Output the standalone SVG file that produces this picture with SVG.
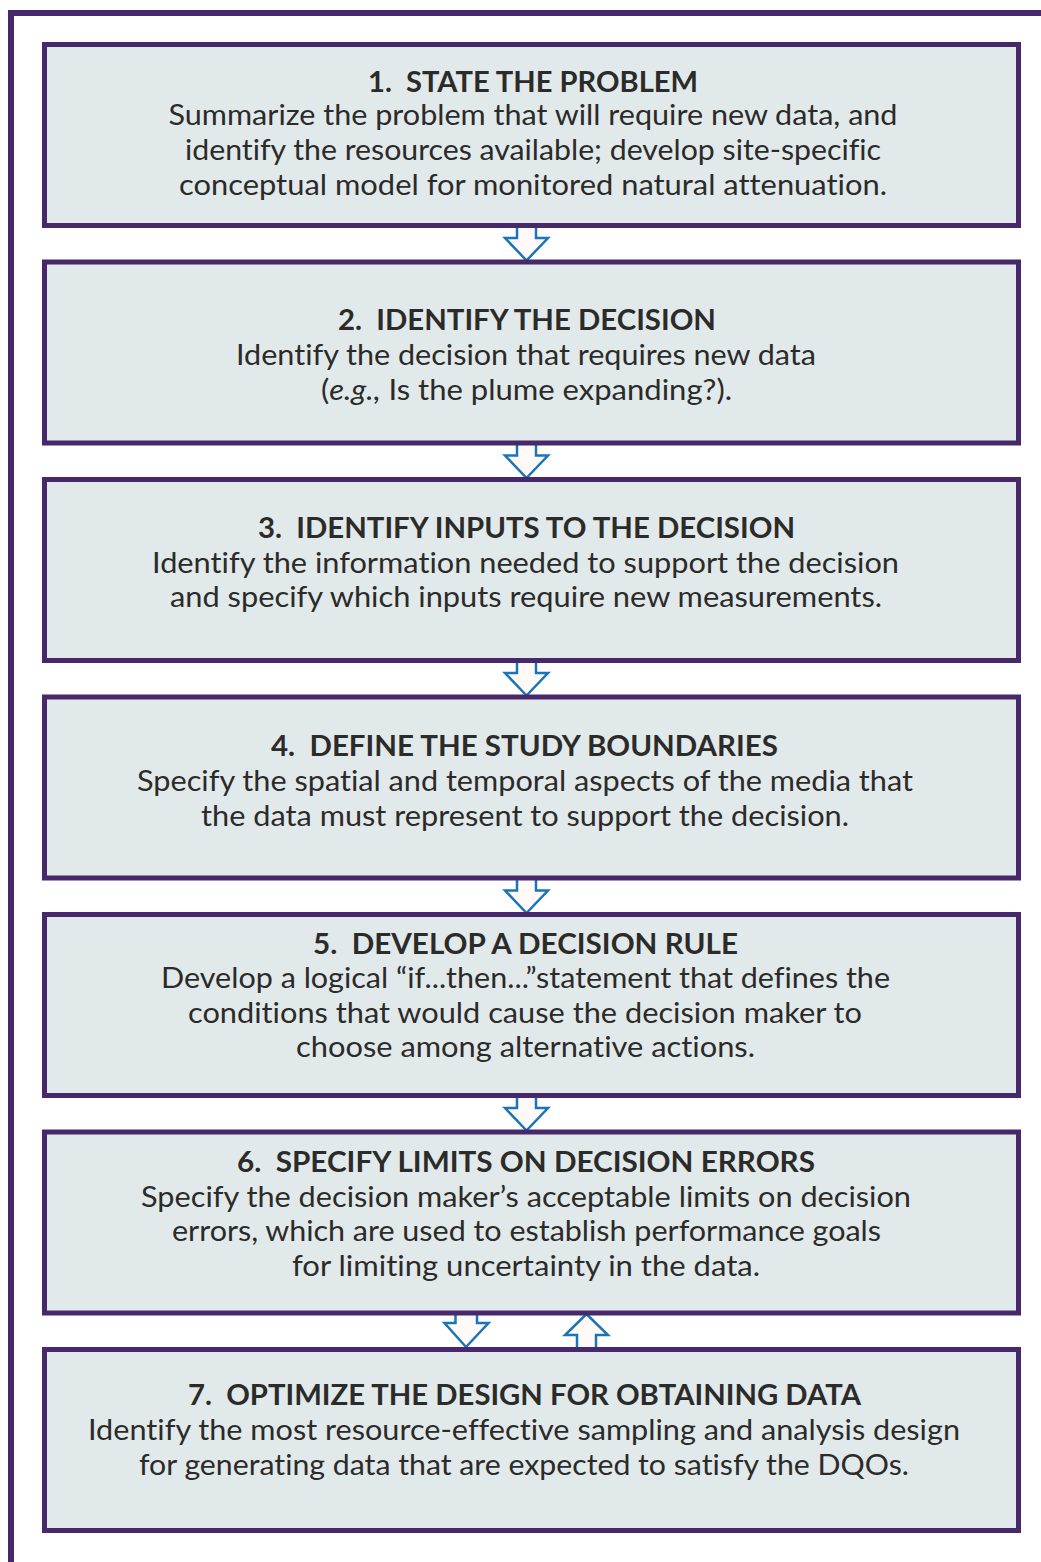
<svg xmlns="http://www.w3.org/2000/svg" width="1041" height="1562" viewBox="0 0 1041 1562">
<defs>
<style>
.frame{fill:none;stroke:#47286b;stroke-width:6}
.box{fill:#e2e9eb;stroke:#47286b;stroke-width:5}
.arr{fill:#fffaf8;stroke:#1a74b8;stroke-width:2.5;stroke-linejoin:miter}
text{font-family:Lato,"Open Sans","Liberation Sans",sans-serif;fill:#2b2b29;text-anchor:middle;font-size:28px;font-variant-ligatures:none;font-feature-settings:"liga" 0,"dlig" 0}
.t{font-weight:bold}
</style>
</defs>
<rect width="1041" height="1562" fill="#ffffff"/>
<rect class="frame" x="11" y="13" width="1100" height="1600"/>
<g id="connectors">
<polygon class="arr" points="517,226 536,226 536,238 548,238 526.5,260.5 505,238 517,238"/>
<polygon class="arr" points="517,443.5 536,443.5 536,455.5 548,455.5 526.5,478 505,455.5 517,455.5"/>
<polygon class="arr" points="517,661 536,661 536,673 548,673 526.5,695.5 505,673 517,673"/>
<polygon class="arr" points="517,878.5 536,878.5 536,890.5 548,890.5 526.5,913 505,890.5 517,890.5"/>
<polygon class="arr" points="517,1096 536,1096 536,1108 548,1108 526.5,1130.5 505,1108 517,1108"/>
<polygon class="arr" points="455.5,1313 477,1313 477,1323 488.5,1323 466,1347 444.5,1323 455.5,1323"/>
<polygon class="arr" points="577,1349 596,1349 596,1335 608,1335 586.5,1314 565,1335 577,1335"/>
</g>
<g id="node1">
<rect class="box" x="44.5" y="44.5" width="974" height="181"/>
<text class="t" x="533" y="92" textLength="330" lengthAdjust="spacingAndGlyphs" xml:space="preserve">1.  STATE THE PROBLEM</text>
<text x="533" y="125" textLength="729" lengthAdjust="spacingAndGlyphs">Summarize the problem that will require new data, and</text>
<text x="533" y="160" textLength="696" lengthAdjust="spacingAndGlyphs">identify the resources available; develop site-specific</text>
<text x="533" y="195" textLength="708" lengthAdjust="spacingAndGlyphs">conceptual model for monitored natural attenuation.</text>
</g>
<g id="node2">
<rect class="box" x="44.5" y="262" width="974" height="181"/>
<text class="t" x="527" y="330" textLength="378" lengthAdjust="spacingAndGlyphs" xml:space="preserve">2.  IDENTIFY THE DECISION</text>
<text x="526" y="365" textLength="580" lengthAdjust="spacingAndGlyphs">Identify the decision that requires new data</text>
<text x="526.5" y="400" textLength="411" lengthAdjust="spacingAndGlyphs">(<tspan font-style="italic">e.g.,</tspan> Is the plume expanding?).</text>
</g>
<g id="node3">
<rect class="box" x="44.5" y="479.5" width="974" height="181"/>
<text class="t" x="526.5" y="538" textLength="537" lengthAdjust="spacingAndGlyphs" xml:space="preserve">3.  IDENTIFY INPUTS TO THE DECISION</text>
<text x="525.5" y="573" textLength="747" lengthAdjust="spacingAndGlyphs">Identify the information needed to support the decision</text>
<text x="526" y="607" textLength="712" lengthAdjust="spacingAndGlyphs">and specify which inputs require new measurements.</text>
</g>
<g id="node4">
<rect class="box" x="44.5" y="697" width="974" height="181"/>
<text class="t" x="524.5" y="756" textLength="507" lengthAdjust="spacingAndGlyphs" xml:space="preserve">4.  DEFINE THE STUDY BOUNDARIES</text>
<text x="525" y="791" textLength="776" lengthAdjust="spacingAndGlyphs">Specify the spatial and temporal aspects of the media that</text>
<text x="525" y="826" textLength="648" lengthAdjust="spacingAndGlyphs">the data must represent to support the decision.</text>
</g>
<g id="node5">
<rect class="box" x="44.5" y="914.5" width="974" height="181"/>
<text class="t" x="525.5" y="954" textLength="425" lengthAdjust="spacingAndGlyphs" xml:space="preserve">5.  DEVELOP A DECISION RULE</text>
<text x="525.5" y="988" textLength="729" lengthAdjust="spacingAndGlyphs">Develop a logical “if...then...”statement that defines the</text>
<text x="525" y="1023" textLength="674" lengthAdjust="spacingAndGlyphs">conditions that would cause the decision maker to</text>
<text x="525.5" y="1057" textLength="459" lengthAdjust="spacingAndGlyphs">choose among alternative actions.</text>
</g>
<g id="node6">
<rect class="box" x="44.5" y="1132" width="974" height="181"/>
<text class="t" x="526" y="1172" textLength="578" lengthAdjust="spacingAndGlyphs" xml:space="preserve">6.  SPECIFY LIMITS ON DECISION ERRORS</text>
<text x="526" y="1207" textLength="770" lengthAdjust="spacingAndGlyphs">Specify the decision maker’s acceptable limits on decision</text>
<text x="526.5" y="1241" textLength="709" lengthAdjust="spacingAndGlyphs">errors, which are used to establish performance goals</text>
<text x="526" y="1276" textLength="468" lengthAdjust="spacingAndGlyphs">for limiting uncertainty in the data.</text>
</g>
<g id="node7">
<rect class="box" x="44.5" y="1349.5" width="974" height="181"/>
<text class="t" x="524.5" y="1405" textLength="673" lengthAdjust="spacingAndGlyphs" xml:space="preserve">7.  OPTIMIZE THE DESIGN FOR OBTAINING DATA</text>
<text x="524" y="1440" textLength="872" lengthAdjust="spacingAndGlyphs">Identify the most resource-effective sampling and analysis design</text>
<text x="524" y="1475" textLength="770" lengthAdjust="spacingAndGlyphs">for generating data that are expected to satisfy the DQOs.</text>
</g>
</svg>
